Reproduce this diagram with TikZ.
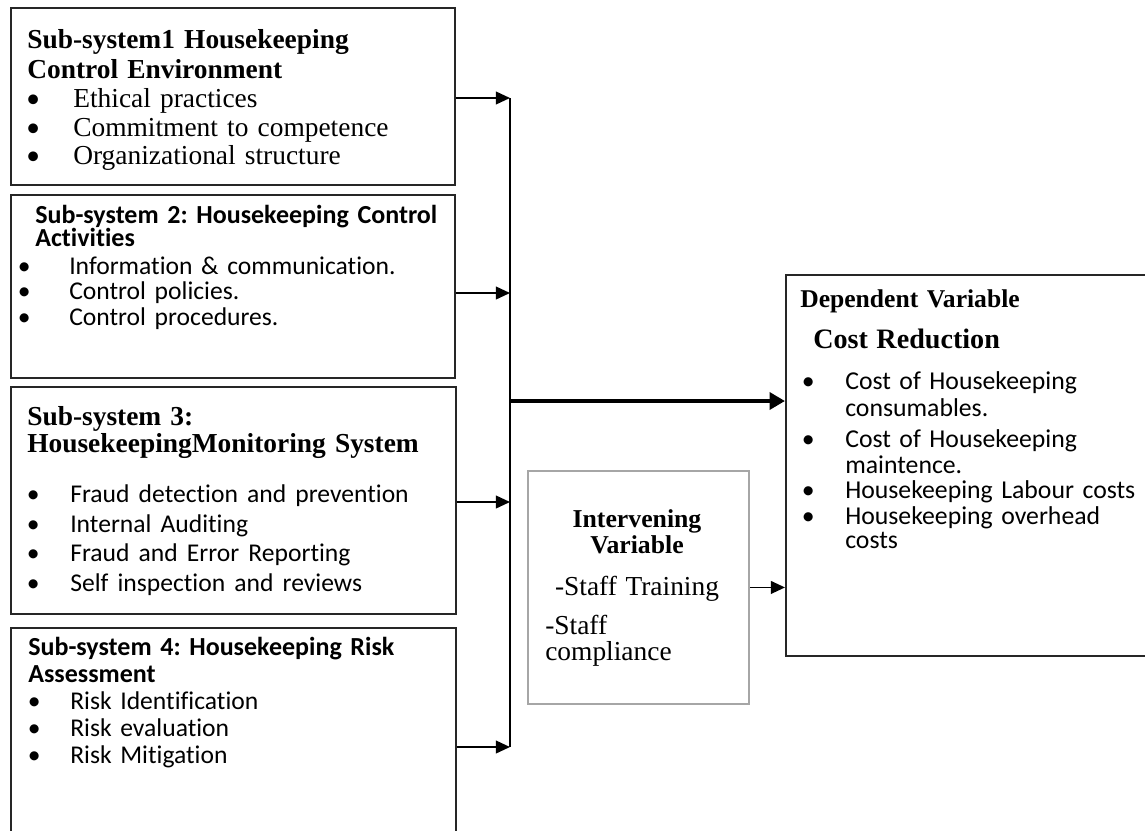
\documentclass[tikz,border=0pt]{standalone}
\usepackage{fontspec}
\setmainfont{Liberation Serif}
\newfontfamily\clb[Ligatures=NoCommon]{Carlito}
\usetikzlibrary{arrows.meta}
\frenchspacing
\newcommand{\bitem}[3]{\hspace*{#1}\makebox[0pt]{\clb\textbullet}\hspace*{#2}#3}
\begin{document}
\begin{tikzpicture}[x=0.025cm,y=-0.025cm]

    \tikzstyle{subbox}=[draw=black!85, line width=1.1pt, anchor=north west, inner sep=0pt]
    \tikzstyle{txt}=[anchor=base west, inner sep=0pt, align=left, text width=11cm]
    \tikzstyle{link}=[line width=1.3pt, -{Triangle[length=10pt,width=9pt]}]
    \tikzstyle{mainlink}=[line width=3pt, -{Triangle[length=11pt,width=12pt]}]

    \useasboundingbox (0,0) rectangle (1145,830);
    \clip (0,0) rectangle (1145,830);

    \node[subbox, minimum width=11.1cm, minimum height=4.425cm]   (b1)   at (10,7)    {};
    \node[subbox, minimum width=11.1cm, minimum height=4.575cm]   (b2)   at (10,194)  {};
    \node[subbox, minimum width=11.125cm, minimum height=5.675cm] (b3)   at (10,386)  {};
    \node[subbox, minimum width=11.125cm, minimum height=5.75cm]  (b4)   at (10,627)  {};
    \node[subbox, minimum width=10cm, minimum height=9.525cm]     (dep)  at (785,274) {};
    \node[subbox, draw=black!35, line width=1.3pt,
          minimum width=5.525cm, minimum height=5.825cm]          (intv) at (527,470) {};

    \node[txt, font=\fontsize{19.5}{20}\selectfont] (t1) at (27,48)
        {\textbf{Sub-system1 Housekeeping}\\[2pt]
         \textbf{Control Environment}\\[0.6pt]
         \bitem{0.15cm}{1cm}{Ethical practices}\\
         \bitem{0.15cm}{1cm}{Commitment to competence}\\
         \bitem{0.15cm}{1cm}{Organizational structure}};

    \node[txt, font=\clb\fontsize{18.5}{17}\selectfont] (t2) at (14,223)
        {\hspace*{0.525cm}\textbf{Sub-system 2: Housekeeping Control}\\
         \hspace*{0.525cm}\textbf{Activities}\\[2.5pt]
         {\fontsize{18.2}{17}\selectfont
         \bitem{0.25cm}{1.125cm}{Information \& communication.}\\[1.2pt]
         \bitem{0.25cm}{1.125cm}{Control policies.}\\[1.2pt]
         \bitem{0.25cm}{1.125cm}{Control procedures.}}};

    \node[txt, font=\fontsize{19.5}{21.3}\selectfont] (t3) at (27,425)
        {\textbf{Sub-system 3:}\\[-1.4pt]
         \textbf{HousekeepingMonitoring System}\\[13.6pt]
         {\clb\fontsize{18.2}{21.3}\selectfont
         \bitem{0.15cm}{0.925cm}{Fraud detection and prevention}\\
         \bitem{0.15cm}{0.925cm}{Internal Auditing}\\
         \bitem{0.15cm}{0.925cm}{Fraud and Error Reporting}\\
         \bitem{0.15cm}{0.925cm}{Self inspection and reviews}}};

    \node[txt, font=\clb\fontsize{18.5}{19.2}\selectfont] (t4) at (28,655)
        {\textbf{Sub-system 4: Housekeeping Risk}\\
         \textbf{Assessment}\\
         {\fontsize{18.2}{19.2}\selectfont
         \bitem{0.15cm}{0.9cm}{Risk Identification}\\
         \bitem{0.15cm}{0.9cm}{Risk evaluation}\\
         \bitem{0.15cm}{0.9cm}{Risk Mitigation}}};

    \node[txt, font=\fontsize{18.2}{19.2}\selectfont] (tdep) at (800,307)
        {\textbf{Dependent Variable}\\[10pt]
         \hspace*{0.325cm}{\fontsize{20}{19.2}\selectfont\textbf{Cost Reduction}}\\[10pt]
         {\clb\fontsize{18.3}{19.2}\selectfont
         \bitem{0.2cm}{0.925cm}{Cost of Housekeeping}\\
         \hspace*{1.125cm}consumables.\\[2.8pt]
         \bitem{0.2cm}{0.925cm}{Cost of Housekeeping}\\[-0.7pt]
         \hspace*{1.125cm}maintence.\\[-1.4pt]
         \bitem{0.2cm}{0.925cm}{Housekeeping Labour costs}\\[-0.7pt]
         \bitem{0.2cm}{0.925cm}{Housekeeping overhead}\\[-2.1pt]
         \hspace*{1.125cm}costs}};

    \node[anchor=base, inner sep=0pt, align=center, text width=5cm,
          font=\fontsize{18.3}{18.5}\selectfont] (tintv) at (637,527)
        {\textbf{Intervening}\\
         \textbf{Variable}\\[11.4pt]
         {\fontsize{19.5}{18.5}\selectfont -Staff Training}};
    \node[txt, text width=5cm, font=\fontsize{19.5}{18.5}\selectfont] (tcomp) at (545,634)
        {-Staff\\compliance};

    \coordinate (j1) at (510,98);
    \coordinate (j2) at (510,293);
    \coordinate (j3) at (510,502);
    \coordinate (j4) at (510,747);
    \coordinate (jm) at (510,401);

    \draw[line width=1.3pt] (j1) -- (j4);
    \draw[link] (b1.east |- j1) -- (j1);
    \draw[link] (b2.east |- j2) -- (j2);
    \draw[link] (b3.east |- j3) -- (j3);
    \draw[link] (b4.east |- j4) -- (j4);
    \draw[mainlink] (jm) -- (dep.west |- jm);
    \draw[link] (intv.east) -- (dep.west |- intv.east);
\end{tikzpicture}
\end{document}
